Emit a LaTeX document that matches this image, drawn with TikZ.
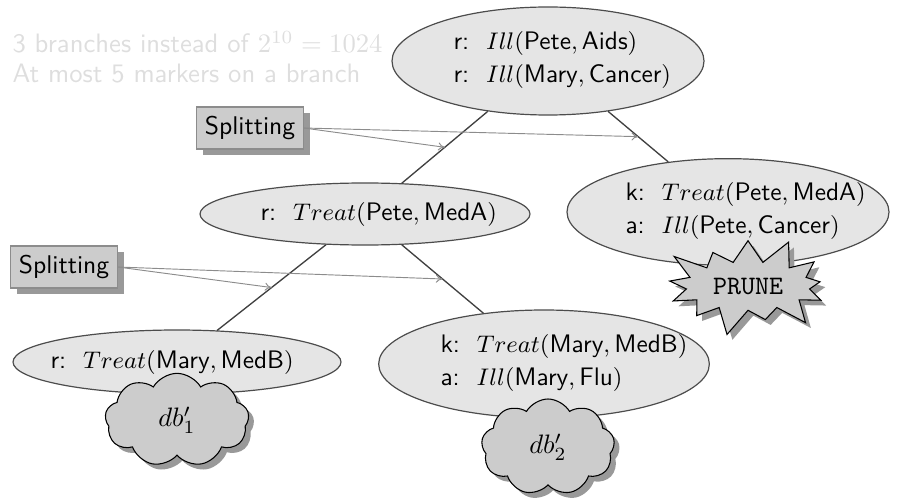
\documentclass[tikz,border=0pt]{standalone}
\usepackage{fontspec}
\usetikzlibrary{shapes.geometric,shapes.symbols,shadows,arrows.meta}
\begin{document}
\begin{tikzpicture}[x=0.375pt,y=-0.375pt,font=\sffamily,
  world/.style={ellipse,draw=black!70,fill=black!10,inner sep=0pt,line width=0.45pt},
  worldtext/.style={align=left,inner sep=0pt,anchor=west,font=\sffamily\fontsize{9.5}{11.6}\selectfont},
  splitbox/.style={rectangle,draw=black!45,fill=black!20,inner xsep=3pt,inner ysep=0pt,
    minimum height=15.75pt,font=\sffamily\fontsize{9.6}{11.5}\selectfont,
    drop shadow={shadow xshift=2.4pt,shadow yshift=-2.4pt,fill=black!40,opacity=1}},
  treeedge/.style={draw=black!75,line width=0.5pt},
  splitarrow/.style={draw=black!45,line width=0.35pt,-{To[length=2.5pt,width=3pt]}},
  dbcloud/.style={cloud,cloud puffs=9,cloud puff arc=120,draw=black,fill=black!20,
    drop shadow={shadow xshift=2pt,shadow yshift=-2pt,fill=black!40,opacity=1}},
  prune/.style={starburst,starburst points=13,starburst point height=11pt,draw=black,fill=black!20,
    minimum width=62pt,minimum height=36pt,font=\ttfamily,
    drop shadow={shadow xshift=2pt,shadow yshift=-2pt,fill=black!40,opacity=1}}
]
\useasboundingbox (0,0) rectangle (918,498);

\node[anchor=west,text=black!13,align=left,inner sep=0pt] (note) at (12,57)
  {3 branches instead of $2^{10}=1024$\\[-1pt]At most 5 markers on a branch};

\node[world,minimum width=117pt,minimum height=40.5pt] (root) at (548,61) {};
\node[worldtext] (roott) at (453,60)
  {r:~~$Ill(\mbox{Pete},\mbox{Aids})$\\[1pt]r:~~$Ill(\mbox{Mary},\mbox{Cancer})$};
\node[world,minimum width=123.75pt,minimum height=23.25pt] (mid) at (365,214) {};
\node[worldtext] (midt) at (260,214)
  {r:~~$Treat(\mbox{Pete},\mbox{MedA})$};
\node[world,minimum width=120.75pt,minimum height=40pt] (rgt) at (728,212) {};
\node[worldtext] (rgtt) at (625,211)
  {k:~~$Treat(\mbox{Pete},\mbox{MedA})$\\[1pt]a:~~$Ill(\mbox{Pete},\mbox{Cancer})$};
\node[world,minimum width=123pt,minimum height=24pt] (ll) at (177,362) {};
\node[worldtext] (llt) at (50,362)
  {r:~~$Treat(\mbox{Mary},\mbox{MedB})$};
\node[world,minimum width=124pt,minimum height=40.5pt] (lr) at (544,364) {};
\node[worldtext] (lrt) at (440,363)
  {k:~~$Treat(\mbox{Mary},\mbox{MedB})$\\[1pt]a:~~$Ill(\mbox{Mary},\mbox{Flu})$};

\draw[treeedge] (root) -- (mid);
\draw[treeedge] (root) -- (rgt);
\draw[treeedge] (mid) -- (ll);
\draw[treeedge] (mid) -- (lr);

\node[prune] (pr) at (748,286) {PRUNE};
\node[dbcloud,minimum width=54pt,minimum height=35pt] (db1) at (177,420) {$db'_1$};
\node[dbcloud,minimum width=50pt,minimum height=36pt] (db2) at (548,447) {$db'_2$};

\node[splitbox] (s1) at (250,128) {Splitting};
\node[splitbox] (s2) at (64,267) {Splitting};

\path (root) -- (mid) coordinate[pos=0.5] (e1);
\path (root) -- (rgt) coordinate[pos=0.5] (e2);
\path (mid) -- (ll) coordinate[pos=0.5] (e3);
\path (mid) -- (lr) coordinate[pos=0.5] (e4);

\draw[splitarrow] (s1.east) -- (e1);
\draw[splitarrow] (s1.east) -- (e2);
\draw[splitarrow] (s2.east) -- (e3);
\draw[splitarrow] (s2.east) -- (e4);
\end{tikzpicture}
\end{document}
